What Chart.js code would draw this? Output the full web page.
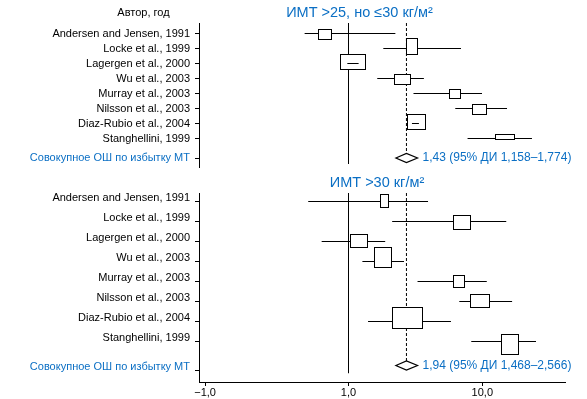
<!DOCTYPE html>
<html lang="ru">
<head>
<meta charset="utf-8">
<title>Избыток массы тела и отношение шансов</title>
<script src="https://cdn.jsdelivr.net/npm/chart.js@4.4.1/dist/chart.umd.min.js"></script>
<style>
  body { margin: 0; background: #fff; font-family: "Liberation Sans", Arial, sans-serif; }
  #wrap { position: relative; width: 587px; height: 399px; overflow: hidden; }
  canvas { position: absolute; left: 0; }
  .txt { position: absolute; white-space: nowrap; line-height: 1; transform: translate(-50%, -50%); }
  .blue { color: #0b6fc4; }
</style>
</head>
<body>
<div id="wrap">
  <canvas id="topChart" width="587" height="170" style="top:0"></canvas>
  <canvas id="bottomChart" width="587" height="229" style="top:170px"></canvas>
  <div class="txt" style="left:143.5px; top:11.5px; font-size:11px;">Автор, год</div>
  <div class="txt blue" style="left:359.5px; top:11.5px; font-size:14.5px;">ИМТ &gt;25, но ≤30 кг/м²</div>
  <div class="txt blue" style="left:377px; top:181.5px; font-size:14.5px;">ИМТ &gt;30 кг/м²</div>
</div>
<script>
// Studies (rows of both panels)
const studies = [
    'Andersen and Jensen, 1991',
    'Locke et al., 1999',
    'Lagergen et al., 2000',
    'Wu et al., 2003',
    'Murray et al., 2003',
    'Nilsson et al., 2003',
    'Diaz-Rubio et al., 2004',
    'Stanghellini, 1999'
];
const pooledLabel = 'Совокупное ОШ по избытку МТ';

// X axis ticks (odds ratio, log axis)
const xTickValues = [0.0848, 1, 10];
const xTickLabels = ['−1,0', '1,0', '10,0'];

// BMI >25 but <=30: odds ratios and 95% CI as drawn
const owOr = [0.66, 2.98, 1.08, 2.53, 6.18, 9.38, 3.18, 14.6];
const owLo = [0.47, 1.82, 0.98, 1.64, 3.06, 6.28, 2.98, 7.76];
const owHi = [2.24, 6.93, 1.19, 3.66, 9.95, 15.3, 3.36, 23.5];
const owPooledOr = 2.71;
const owPooledLo = 2.26;
const owPooledHi = 3.28;
const owPooledText = '1,43 (95% ДИ 1,158–1,774)';

// BMI >30
const obOr = [1.83, 6.97, 1.18, 1.79, 6.59, 9.46, 2.73, 15.9];
const obLo = [0.50, 2.12, 0.63, 1.27, 3.28, 6.73, 1.40, 8.27];
const obHi = [3.93, 15.1, 1.88, 2.60, 10.8, 16.7, 5.83, 25.2];
const obPooledOr = 2.71;
const obPooledLo = 2.26;
const obPooledHi = 3.28;
const obPooledText = '1,94 (95% ДИ 1,468–2,566)';

const BLUE = '#0b6fc4';
const FONT = '"Liberation Sans", Arial, sans-serif';

// Draws the boxes, the pooled diamond and its text on top of the lines
const forestPlugin = {
    id: 'forest',
    afterDatasetsDraw(chart, args, o) {
        const ctx = chart.ctx;
        const xs = chart.scales.x;
        const ys = chart.scales.y;
        ctx.save();
        ctx.lineWidth = 1;
        ctx.strokeStyle = '#000';

        o.or.forEach((v, i) => {
            const cx = xs.getPixelForValue(v);
            const rowY = ys.getPixelForValue(i);
            const w = o.boxW[i], h = o.boxH[i];
            const l = Math.round(cx - w / 2) + 0.5;
            const t = Math.round(rowY + o.boxDy[i] - h / 2) + 0.5;
            ctx.fillStyle = '#fff';
            ctx.fillRect(l, t, w, h);
            ctx.strokeRect(l, t, w, h);
            // confidence interval hidden inside the box
            const a = xs.getPixelForValue(o.lo[i]);
            const b = xs.getPixelForValue(o.hi[i]);
            if (a > l && b < l + w) {
                const yy = Math.floor(rowY) + 0.5;
                ctx.beginPath();
                ctx.moveTo(a, yy);
                ctx.lineTo(b, yy);
                ctx.stroke();
            }
        });

        // pooled diamond
        const dl = xs.getPixelForValue(o.pooledLo);
        const dr = xs.getPixelForValue(o.pooledHi);
        const dc = xs.getPixelForValue(o.pooledOr);
        const dy = ys.getPixelForValue(o.pooledRow);
        ctx.beginPath();
        ctx.moveTo(dl, dy);
        ctx.lineTo(dc, dy - 4.5);
        ctx.lineTo(dr, dy);
        ctx.lineTo(dc, dy + 4.5);
        ctx.closePath();
        ctx.fillStyle = '#fff';
        ctx.fill();
        ctx.lineWidth = 1.2;
        ctx.stroke();

        ctx.fillStyle = BLUE;
        ctx.font = '12px ' + FONT;
        ctx.textBaseline = 'middle';
        ctx.fillText(o.pooledText, dr + 5, dy);
        ctx.restore();
    }
};

function makePanel(id, p) {
    // whiskers as one line with gaps between the rows
    const whiskers = [];
    p.lo.forEach((v, i) => {
        whiskers.push({ x: v, y: i }, { x: p.hi[i], y: i }, { x: p.hi[i], y: null });
    });

    const lineStyle = { showLine: true, borderColor: '#000', borderWidth: 1, pointRadius: 0, spanGaps: false };

    return new Chart(document.getElementById(id), {
        type: 'scatter',
        data: {
            datasets: [
                Object.assign({ data: [{ x: 1, y: p.yMin }, { x: 1, y: p.refEnd }] }, lineStyle),
                Object.assign({ data: [{ x: p.pooledOr, y: p.yMin }, { x: p.pooledOr, y: p.pooledRow }], borderDash: [3, 2] }, lineStyle),
                Object.assign({ data: whiskers }, lineStyle)
            ]
        },
        options: {
            responsive: false,
            animation: false,
            events: [],
            layout: { padding: { left: 0, right: 22, top: 23, bottom: p.padBottom } },
            plugins: {
                legend: { display: false },
                tooltip: { enabled: false },
                forest: p
            },
            scales: {
                x: {
                    type: 'logarithmic',
                    display: p.showX,
                    bounds: 'data',
                    min: 0.07631,
                    max: 41.5,
                    afterBuildTicks: scale => { scale.ticks = xTickValues.map(v => ({ value: v })); },
                    afterFit: scale => { scale.height = p.showX ? 17 : 0; },
                    grid: { display: true, drawOnChartArea: false, drawTicks: true, tickLength: 4, color: '#000' },
                    border: { display: true, color: '#000', width: 1 },
                    ticks: {
                        color: '#000',
                        padding: 0,
                        maxRotation: 0,
                        font: { family: FONT, size: 11 },
                        callback: (v, i) => xTickLabels[i]
                    }
                },
                y: {
                    type: 'linear',
                    reverse: true,
                    bounds: 'data',
                    min: p.yMin,
                    max: p.yMax,
                    afterBuildTicks: scale => {
                        scale.ticks = studies.map((s, i) => ({ value: i }));
                        scale.ticks.push({ value: p.pooledTick });
                    },
                    afterFit: scale => {
                        scale.width = 199;
                        scale.paddingTop = 0;
                        scale.paddingBottom = 0;
                    },
                    grid: { display: true, drawOnChartArea: false, drawTicks: true, tickLength: 4, color: '#000' },
                    border: { display: true, color: '#000', width: 1 },
                    ticks: {
                        padding: 5,
                        autoSkip: false,
                        labelOffset: p.labelOffset,
                        font: { family: FONT, size: 11 },
                        color: c => (c.index === studies.length ? BLUE : '#000'),
                        callback: (v, i) => (i < studies.length ? studies[i] : pooledLabel)
                    }
                }
            }
        },
        plugins: [forestPlugin]
    });
}

// Top panel: BMI >25 but <=30
makePanel('topChart', {
    or: owOr, lo: owLo, hi: owHi,
    pooledOr: owPooledOr, pooledLo: owPooledLo, pooledHi: owPooledHi, pooledText: owPooledText,
    boxW: [13, 11, 25, 16, 11, 14, 18, 19],
    boxH: [10, 16, 15, 10, 9, 10, 15, 5],
    boxDy: [0, -3, -2.5, 0, 0, 0, -2.5, -2.5],
    yMin: -0.7, yMax: 8.9, refEnd: 8.7,
    pooledRow: 8.3, pooledTick: 8.3,
    labelOffset: 0, padBottom: 3, showX: false
});

// Bottom panel: BMI >30
makePanel('bottomChart', {
    or: obOr, lo: obLo, hi: obHi,
    pooledOr: obPooledOr, pooledLo: obPooledLo, pooledHi: obPooledHi, pooledText: obPooledText,
    boxW: [8, 17, 17, 17, 11, 19, 30, 17],
    boxH: [13, 14, 13, 20, 12, 13, 21, 20],
    boxDy: [-1, 0, -1, -4, 0, -1, -3.5, 2.5],
    yMin: -0.425, yMax: 9.025, refEnd: 8.58,
    pooledRow: 8.2, pooledTick: 8.45,
    labelOffset: -4, padBottom: 0, showX: true
});
</script>
</body>
</html>
